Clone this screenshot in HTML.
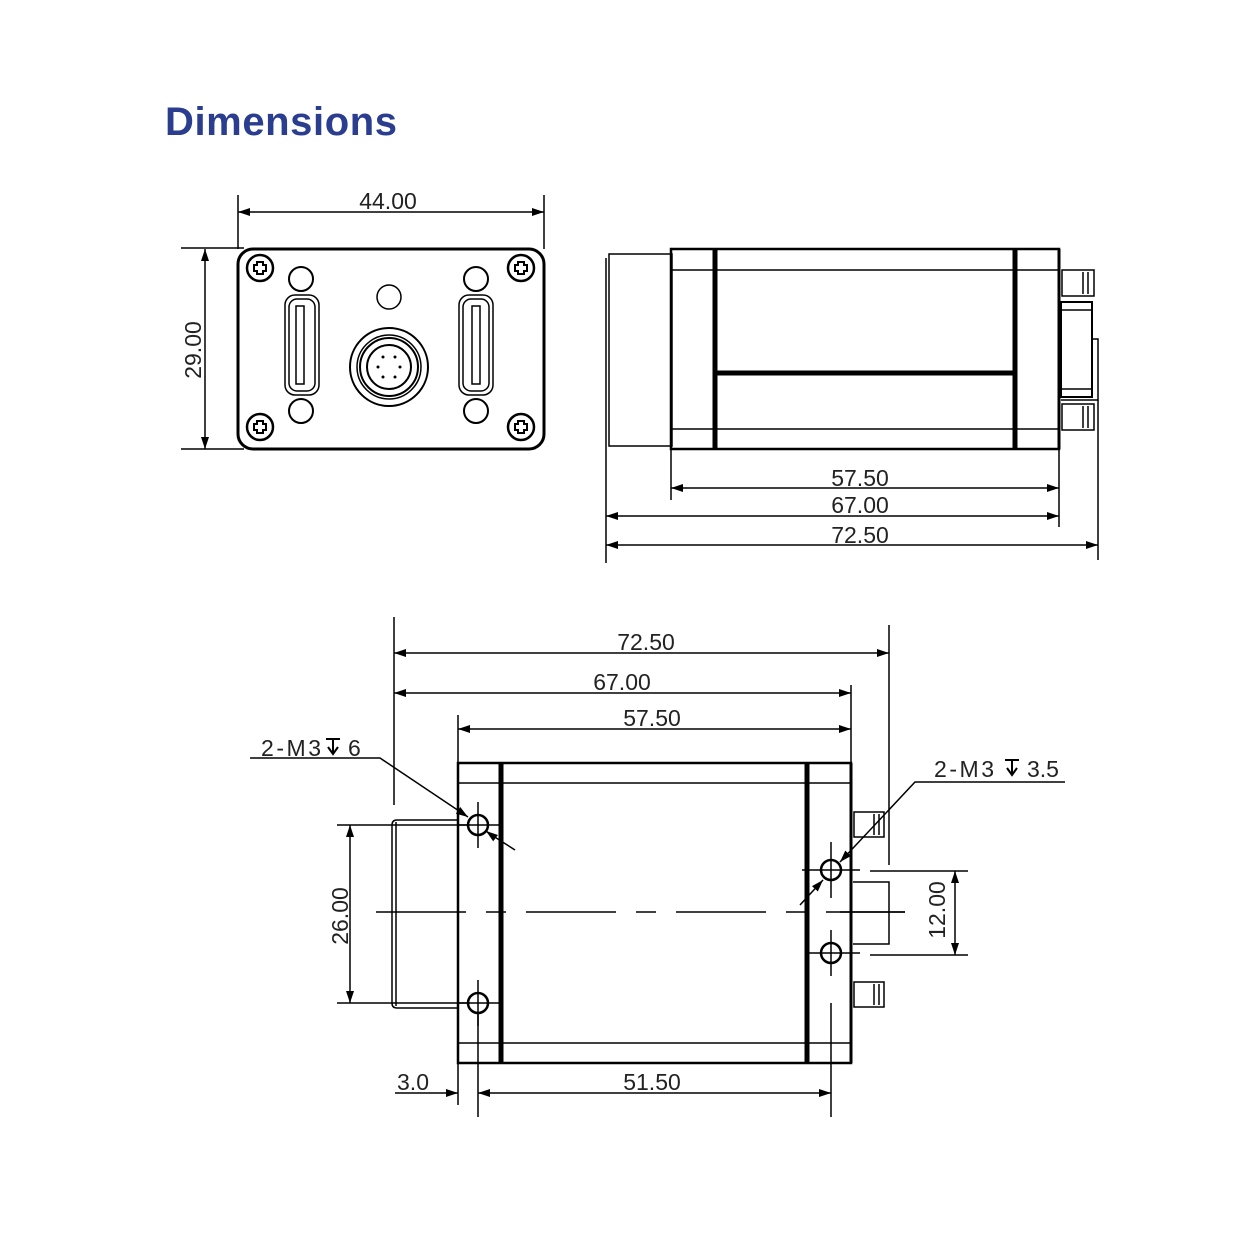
<!DOCTYPE html>
<html><head><meta charset="utf-8"><style>
html,body{margin:0;padding:0;background:#fff}
svg{display:block}
text{font-family:"Liberation Sans",sans-serif;fill:#222}
</style></head><body>
<svg width="1260" height="1260" viewBox="0 0 1260 1260" xmlns="http://www.w3.org/2000/svg">
<defs>
<marker id="a" viewBox="0 0 12 8" refX="12" refY="4" markerWidth="12" markerHeight="8" markerUnits="userSpaceOnUse" orient="auto-start-reverse"><path d="M0,0L12,4L0,8z" fill="#000"/></marker>
</defs>
<text x="165" y="135" font-size="40" font-weight="bold" style="fill:#2a3d8f" textLength="232">Dimensions</text>

<g stroke="#000" fill="none" stroke-width="1.5">
<!-- FRONT VIEW -->
<line x1="238" y1="195" x2="238" y2="249"/><line x1="544" y1="195" x2="544" y2="249"/>
<line x1="238" y1="212" x2="544" y2="212" marker-start="url(#a)" marker-end="url(#a)"/>
<line x1="181" y1="248" x2="244" y2="248"/><line x1="181" y1="449" x2="244" y2="449"/>
<line x1="205" y1="249" x2="205" y2="449" marker-start="url(#a)" marker-end="url(#a)"/>
<rect x="238" y="249" width="306" height="200" rx="15" stroke-width="3"/>
<g stroke-width="2.5">
<circle cx="260" cy="268" r="13"/><circle cx="521" cy="268" r="13"/><circle cx="260" cy="427" r="13"/><circle cx="521" cy="427" r="13"/>
</g>
<g stroke-width="2">
<path d="M257,262h6v3h3v6h-3v3h-6v-3h-3v-6h3z"/>
<path d="M257,262h6v3h3v6h-3v3h-6v-3h-3v-6h3z" transform="translate(261,0)"/>
<path d="M257,262h6v3h3v6h-3v3h-6v-3h-3v-6h3z" transform="translate(0,159)"/>
<path d="M257,262h6v3h3v6h-3v3h-6v-3h-3v-6h3z" transform="translate(261,159)"/>
<circle cx="301" cy="279" r="12"/><circle cx="476" cy="279" r="12"/><circle cx="301" cy="411" r="12"/><circle cx="476" cy="411" r="12"/>
</g>
<circle cx="389" cy="297" r="12"/>
<circle cx="389" cy="367" r="39" stroke-width="2"/>
<circle cx="389" cy="367" r="32"/><circle cx="389" cy="367" r="29" stroke-width="2"/><circle cx="389" cy="367" r="22" stroke-width="2"/>
<g fill="#000" stroke="none"><circle cx="383" cy="357" r="1.5"/><circle cx="395" cy="357" r="1.5"/><circle cx="378" cy="367" r="1.5"/><circle cx="400" cy="367" r="1.5"/><circle cx="383" cy="377" r="1.5"/><circle cx="395" cy="377" r="1.5"/></g>
<rect x="285" y="295" width="34" height="100" rx="10"/><rect x="289" y="299" width="26" height="92" rx="8"/>
<rect x="296" y="306" width="8" height="78"/>
<rect x="459" y="295" width="34" height="100" rx="10"/><rect x="463" y="299" width="26" height="92" rx="8"/>
<rect x="472" y="306" width="8" height="78"/>

<!-- SIDE VIEW -->
<path d="M609,254H672V446H609z"/><line x1="606" y1="258" x2="606" y2="446"/>
<rect x="671" y="249" width="388" height="200" stroke-width="2.5"/>
<line x1="671" y1="270" x2="1059" y2="270"/><line x1="671" y1="429" x2="1059" y2="429"/>
<line x1="715" y1="249" x2="715" y2="449" stroke-width="5"/><line x1="1015" y1="249" x2="1015" y2="449" stroke-width="5"/>
<line x1="715" y1="373" x2="1015" y2="373" stroke-width="5"/>
<line x1="1059" y1="249" x2="1059" y2="449" stroke-width="3"/>
<rect x="1062" y="270" width="32" height="26"/><line x1="1083" y1="272" x2="1083" y2="294"/><line x1="1088" y1="272" x2="1088" y2="294"/>
<rect x="1062" y="404" width="32" height="26"/><line x1="1083" y1="406" x2="1083" y2="428"/><line x1="1088" y1="406" x2="1088" y2="428"/>
<rect x="1061" y="302" width="31" height="95" stroke-width="2"/><line x1="1061" y1="310" x2="1092" y2="310"/><line x1="1061" y1="389" x2="1092" y2="389"/>
<path d="M1092,339H1098V400H1061"/>
<line x1="671" y1="449" x2="671" y2="500"/><line x1="1059" y1="449" x2="1059" y2="527"/>
<line x1="606" y1="446" x2="606" y2="563"/><line x1="1098" y1="400" x2="1098" y2="560"/>
<line x1="671" y1="488" x2="1059" y2="488" marker-start="url(#a)" marker-end="url(#a)"/>
<line x1="606" y1="516" x2="1059" y2="516" marker-start="url(#a)" marker-end="url(#a)"/>
<line x1="606" y1="545" x2="1098" y2="545" marker-start="url(#a)" marker-end="url(#a)"/>

<!-- BOTTOM VIEW -->
<line x1="394" y1="617" x2="394" y2="805"/><line x1="889" y1="625" x2="889" y2="865"/>
<line x1="851" y1="685" x2="851" y2="763"/><line x1="458" y1="715" x2="458" y2="763"/>
<line x1="394" y1="653" x2="889" y2="653" marker-start="url(#a)" marker-end="url(#a)"/>
<line x1="394" y1="693" x2="851" y2="693" marker-start="url(#a)" marker-end="url(#a)"/>
<line x1="458" y1="729" x2="851" y2="729" marker-start="url(#a)" marker-end="url(#a)"/>
<rect x="458" y="763" width="393" height="300" stroke-width="2.5"/>
<line x1="458" y1="783" x2="851" y2="783"/><line x1="458" y1="1043" x2="851" y2="1043"/>
<line x1="501" y1="763" x2="501" y2="1063" stroke-width="5"/><line x1="807" y1="763" x2="807" y2="1063" stroke-width="5"/>
<line x1="851" y1="763" x2="851" y2="1063" stroke-width="3"/>
<path d="M458,820H397Q392,820 392,825V1003Q392,1008 397,1008H458"/><line x1="396" y1="822" x2="396" y2="1006"/>
<line x1="376" y1="912" x2="905" y2="912" stroke-dasharray="90,20,20,20"/>
<g stroke-width="2.5"><circle cx="478" cy="825" r="10"/><circle cx="478" cy="1003" r="10"/><circle cx="831" cy="870" r="10"/><circle cx="831" cy="953" r="10"/></g>
<line x1="478" y1="802" x2="478" y2="848"/><line x1="478" y1="980" x2="478" y2="1026"/><line x1="831" y1="842" x2="831" y2="898"/><line x1="831" y1="930" x2="831" y2="976"/>
<line x1="458" y1="825" x2="500" y2="825"/><line x1="458" y1="1003" x2="500" y2="1003"/>
<line x1="802" y1="870" x2="860" y2="870"/><line x1="808" y1="953" x2="860" y2="953"/>
<line x1="337" y1="825" x2="470" y2="825"/><line x1="337" y1="1003" x2="470" y2="1003"/>
<line x1="350" y1="825" x2="350" y2="1003" marker-start="url(#a)" marker-end="url(#a)"/>
<rect x="854" y="812" width="30" height="25"/><line x1="874" y1="814" x2="874" y2="835"/><line x1="879" y1="814" x2="879" y2="835"/>
<rect x="854" y="982" width="30" height="25"/><line x1="874" y1="984" x2="874" y2="1005"/><line x1="879" y1="984" x2="879" y2="1005"/>
<path d="M853,882H889V944H853"/><line x1="840" y1="912" x2="905" y2="912"/>
<line x1="870" y1="871" x2="968" y2="871"/><line x1="870" y1="955" x2="968" y2="955"/>
<line x1="955" y1="871" x2="955" y2="955" marker-start="url(#a)" marker-end="url(#a)"/>
<line x1="458" y1="1063" x2="458" y2="1105"/><line x1="478" y1="1013" x2="478" y2="1117"/><line x1="831" y1="1003" x2="831" y2="1117"/>
<line x1="395" y1="1093" x2="458" y2="1093" marker-end="url(#a)"/>
<line x1="478" y1="1093" x2="831" y2="1093" marker-start="url(#a)" marker-end="url(#a)"/>
<!-- leaders -->
<path d="M250,758H380L468,817" marker-end="url(#a)"/>
<line x1="515" y1="850" x2="490" y2="834"/><line x1="490" y1="834" x2="486" y2="831" marker-end="url(#a)"/>
<path d="M1065,782H915L840,862" marker-end="url(#a)"/>
<line x1="800" y1="905" x2="823" y2="880" marker-end="url(#a)"/>
<!-- depth symbols -->
<path d="M326,739h14M333,739v15M328,747l5,7l5,-7" stroke-width="2"/>
<path d="M1005,760h14M1012,760v15M1007,768l5,7l5,-7" stroke-width="2"/>
</g>

<g font-size="23">
<text x="388" y="209" text-anchor="middle">44.00</text>
<text transform="translate(201,350) rotate(-90)" text-anchor="middle">29.00</text>
<text x="860" y="486" text-anchor="middle">57.50</text>
<text x="860" y="513" text-anchor="middle">67.00</text>
<text x="860" y="543" text-anchor="middle">72.50</text>
<text x="646" y="650" text-anchor="middle">72.50</text>
<text x="622" y="690" text-anchor="middle">67.00</text>
<text x="652" y="726" text-anchor="middle">57.50</text>
<text x="261" y="756" textLength="60">2-M3</text><text x="348" y="756">6</text>
<text x="934" y="777" textLength="60">2-M3</text><text x="1027" y="777">3.5</text>
<text transform="translate(348,916) rotate(-90)" text-anchor="middle">26.00</text>
<text transform="translate(945,910) rotate(-90)" text-anchor="middle">12.00</text>
<text x="397" y="1090" textLength="32">3.0</text>
<text x="652" y="1090" text-anchor="middle">51.50</text>
</g>
</svg>
</body></html>
